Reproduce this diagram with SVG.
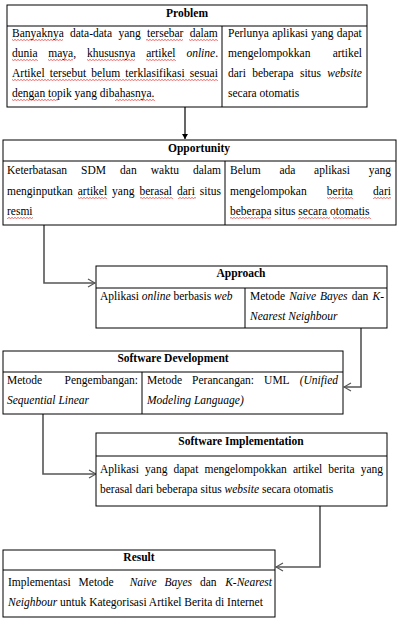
<svg xmlns="http://www.w3.org/2000/svg" width="400" height="625" viewBox="0 0 400 625">
<style>
  text { font-family: "Liberation Serif", "Times New Roman", serif; font-size: 11.5px; fill: #000; }
  .h { font-weight: bold; text-anchor: middle; }
  .i { font-style: italic; }
  .e { text-anchor: end; }
  .box { fill: #fff; stroke: #000; stroke-width: 1; }
  .ln { stroke: #000; stroke-width: 1; fill: none; }
  .con { stroke: #555; stroke-width: 1.6; fill: none; }
  .sq { fill: url(#squig); }
</style>
<defs>
  <pattern id="squig" x="0" y="0" width="3" height="2" patternUnits="userSpaceOnUse">
    <polyline points="0,1.6 1.5,0.4 3,1.6" fill="none" stroke="#e02020" stroke-width="0.7"/>
  </pattern>
  <marker id="fill" markerWidth="6" markerHeight="6" refX="5" refY="3" orient="auto" markerUnits="userSpaceOnUse">
    <path d="M0,0 L5,3 L0,6 Z" fill="#000"/>
  </marker>
  <marker id="open" markerWidth="9" markerHeight="10" refX="8" refY="5" orient="auto" markerUnits="userSpaceOnUse">
    <path d="M1,1 L8,5 L1,9" fill="none" stroke="#555" stroke-width="1.2"/>
  </marker>
</defs>

<g id="connectors">
  <path class="con" d="M185,107 V139" marker-end="url(#fill)" style="stroke:#000;stroke-width:1.2"/>
  <path class="con" d="M44,225 V283 H95" marker-end="url(#open)"/>
  <path class="con" d="M361,328 V387 H344" marker-end="url(#open)"/>
  <path class="con" d="M43,414 V474 H96" marker-end="url(#open)"/>
  <path class="con" d="M320,506 V567 H276" marker-end="url(#open)"/>
</g>

<g id="problem">
  <rect class="box" x="7" y="5" width="360" height="102"/>
  <line class="ln" x1="7" y1="26" x2="367" y2="26"/>
  <line class="ln" x1="222" y1="26" x2="222" y2="107"/>
  <text class="h" x="187" y="17">Problem</text>
  <rect class="sq" x="12" y="39" width="51" height="2"/>
  <rect class="sq" x="146" y="39" width="37" height="2"/>
  <rect class="sq" x="189" y="39" width="29" height="2"/>
  <rect class="sq" x="12" y="59" width="26" height="2"/>
  <rect class="sq" x="48" y="59" width="25" height="2"/>
  <rect class="sq" x="87" y="59" width="48" height="2"/>
  <rect class="sq" x="146" y="59" width="30" height="2"/>
  <rect class="sq" x="12" y="79" width="206" height="2"/>
  <rect class="sq" x="12" y="99" width="46" height="2"/>
  <rect class="sq" x="115" y="99" width="40" height="2"/>
  <text x="12" y="37" word-spacing="3.4">Banyaknya data-data yang tersebar dalam</text>
  <text y="57"><tspan x="12">dunia</tspan><tspan x="48.3">maya,</tspan><tspan x="86.9">khususnya</tspan><tspan x="146.2">artikel</tspan><tspan x="186.4" class="i">online</tspan>.</text>
  <text x="12" y="77" word-spacing="2.3">Artikel tersebut belum terklasifikasi sesuai</text>
  <text x="12" y="97">dengan topik yang dibahasnya.</text>
  <text x="228" y="37" word-spacing="0.4">Perlunya aplikasi yang dapat</text>
  <text x="228" y="57">mengelompokkan</text>
  <text class="e" x="362" y="57">artikel</text>
  <text x="228" y="77" word-spacing="3.4">dari beberapa situs <tspan class="i">website</tspan></text>
  <text x="228" y="97">secara otomatis</text>
</g>

<g id="opportunity">
  <rect class="box" x="3" y="140" width="393" height="85"/>
  <line class="ln" x1="3" y1="161" x2="396" y2="161"/>
  <line class="ln" x1="225" y1="161" x2="225" y2="225"/>
  <text class="h" x="199" y="152">Opportunity</text>
  <rect class="sq" x="78" y="197" width="29" height="2"/>
  <rect class="sq" x="140" y="197" width="33" height="2"/>
  <rect class="sq" x="178" y="197" width="18" height="2"/>
  <rect class="sq" x="7" y="217" width="26" height="2"/>
  <rect class="sq" x="327" y="197" width="26" height="2"/>
  <rect class="sq" x="373" y="197" width="18" height="2"/>
  <rect class="sq" x="230" y="217" width="41" height="2"/>
  <rect class="sq" x="298" y="217" width="32" height="2"/>
  <rect class="sq" x="333" y="217" width="38" height="2"/>
  <text y="174"><tspan x="7">Keterbatasan</tspan><tspan x="81.1">SDM</tspan><tspan x="120.1">dan</tspan><tspan x="150.8">waktu</tspan></text>
  <text class="e" x="221" y="174">dalam</text>
  <text x="7" y="195" word-spacing="2.1">menginputkan artikel yang berasal dari situs</text>
  <text x="7" y="215">resmi</text>
  <text y="174"><tspan x="230">Belum</tspan><tspan x="279.4">ada</tspan><tspan x="314.1">aplikasi</tspan></text>
  <text class="e" x="391" y="174">yang</text>
  <text y="195"><tspan x="230">mengelompokan</tspan><tspan x="326.8">berita</tspan></text>
  <text class="e" x="391" y="195">dari</text>
  <text x="230" y="215">beberapa situs secara otomatis</text>
</g>

<g id="approach">
  <rect class="box" x="96" y="266" width="291" height="62"/>
  <line class="ln" x1="96" y1="288" x2="387" y2="288"/>
  <line class="ln" x1="245" y1="288" x2="245" y2="328"/>
  <text class="h" x="241" y="277">Approach</text>
  <text x="100" y="300">Aplikasi <tspan class="i">online</tspan> berbasis <tspan class="i">web</tspan></text>
  <text y="300"><tspan x="250">Metode</tspan><tspan x="289.2" class="i">Naive</tspan><tspan x="320.1" class="i">Bayes</tspan><tspan x="351.7">dan</tspan></text>
  <text class="e i" x="384" y="300">K-</text>
  <text x="250" y="320" class="i">Nearest Neighbour</text>
</g>

<g id="software-development">
  <rect class="box" x="3" y="351" width="340" height="63"/>
  <line class="ln" x1="3" y1="372" x2="343" y2="372"/>
  <line class="ln" x1="142" y1="372" x2="142" y2="414"/>
  <text class="h" x="173" y="362">Software Development</text>
  <text x="7" y="384">Metode</text>
  <text class="e" x="138" y="384">Pengembangan:</text>
  <text x="7" y="404" class="i">Sequential Linear</text>
  <text y="384"><tspan x="147">Metode</tspan><tspan x="192.1">Perancangan:</tspan><tspan x="264.1">UML</tspan></text>
  <text class="e i" x="338" y="384">(Unified</text>
  <text x="147" y="404" class="i">Modeling Language)</text>
</g>

<g id="software-implementation">
  <rect class="box" x="96" y="433" width="291" height="73"/>
  <line class="ln" x1="96" y1="456" x2="387" y2="456"/>
  <text class="h" x="241" y="445">Software Implementation</text>
  <text x="100" y="473" word-spacing="3.2">Aplikasi yang dapat mengelompokkan artikel berita yang</text>
  <text x="100" y="493">berasal dari beberapa situs <tspan class="i">website</tspan> secara otomatis</text>
</g>

<g id="result">
  <rect class="box" x="3" y="550" width="272" height="67"/>
  <line class="ln" x1="3" y1="570" x2="275" y2="570"/>
  <text class="h" x="139" y="561">Result</text>
  <text y="586"><tspan x="8">Implementasi</tspan><tspan x="78.6">Metode</tspan><tspan x="129.7" class="i">Naive</tspan><tspan x="164.5" class="i">Bayes</tspan><tspan x="200">dan</tspan></text>
  <text class="e i" x="272" y="586">K-Nearest</text>
  <text x="8" y="606"><tspan class="i">Neighbour</tspan> untuk Kategorisasi Artikel Berita di Internet</text>
</g>
</svg>
